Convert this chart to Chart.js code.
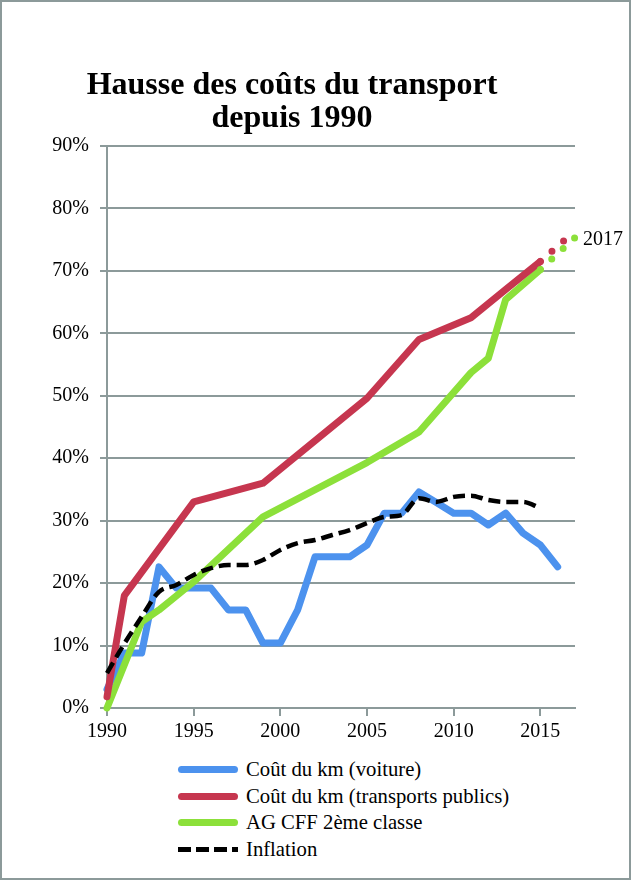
<!DOCTYPE html>
<html>
<head>
<meta charset="utf-8">
<title>Hausse des coûts du transport</title>
<script src="https://cdn.jsdelivr.net/npm/chart.js@4.4.1/dist/chart.umd.min.js"></script>
<style>
    html, body { margin: 0; padding: 0; background: #fff; }
    #frame {
        position: absolute; left: 0; top: 0;
        width: 631px; height: 880px;
        box-sizing: border-box;
        border: 2px solid #8c9a9a;
    }
    #chart-container { position: absolute; left: 0; top: 0; width: 631px; height: 752px; }
    #legend {
        position: absolute; left: 178px; top: 756px;
        font: 20.7px "Liberation Serif", serif; color: #000;
    }
    .legend-item { height: 26.7px; display: flex; align-items: center; white-space: nowrap; }
    .legend-line { width: 60px; height: 7px; border-radius: 4px; margin-right: 8px; }
    .legend-line.dashed {
        height: 5px; border-radius: 0;
        background: repeating-linear-gradient(90deg, #000 0 13px, transparent 13px 18px);
    }
</style>
</head>
<body>
<div id="frame"></div>
<div id="chart-container">
    <canvas id="transport-chart" width="631" height="752"></canvas>
</div>
<div id="legend"></div>

<script>
// valeurs (en %)
const YEARS = [1990, 1991, 1992, 1993, 1994, 1995, 1996, 1997, 1998, 1999,
               2000, 2001, 2002, 2003, 2004, 2005, 2006, 2007, 2008, 2009,
               2010, 2011, 2012, 2013, 2014, 2015, 2016];
const VOITURE = [3, 8.8, 8.8, 22.6, 19.2, 19.2, 19.2, 15.7, 15.7, 10.4,
                 10.4, 15.7, 24.2, 24.2, 24.2, 26.1, 31.2, 31.2, 34.6, 32.9,
                 31.2, 31.2, 29.3, 31.2, 28, 26.1, 22.6];
const INFLATION = [5.6, 10.3, 14.6, 18.6, 19.7, 21.3, 22.4, 22.9, 22.9, 23.7,
                   25.3, 26.4, 26.9, 27.7, 28.5, 29.6, 30.6, 30.9, 33.6, 33,
                   33.8, 34, 33.3, 33, 33, 32];

const TP_YEARS = [1990, 1991, 1995, 1999, 2005, 2008, 2011, 2013, 2015];
const TP_VALUES = [1.8, 18, 33, 36, 49.6, 59, 62.5, 67, 71.5];

const AG_YEARS = [1990, 1992, 1993, 1995, 1999, 2005, 2008, 2011, 2012, 2013, 2015];
const AG_VALUES = [0, 13.8, 15.7, 20.2, 30.6, 39.3, 44.2, 53.7, 56, 65.4, 70.2];

// prolongation pointillée jusqu'en 2017
const FORECAST_YEARS = [2015, 2017];
const TP_FORECAST = [71.5, 76.4];
const AG_FORECAST = [70.2, 75.3];

const X_TICKS = [1990, 1995, 2000, 2005, 2010, 2015];
const Y_TICKS = [0, 10, 20, 30, 40, 50, 60, 70, 80, 90];

const TITLE_LINES = ['Hausse des coûts du transport', 'depuis 1990'];
const SERIES_NAMES = ['Coût du km (voiture)', 'Coût du km (transports publics)',
                      'AG CFF 2ème classe', 'Inflation'];
const END_LABEL = '2017';

const BLUE = '#4c92ee';
const RED = '#c6364f';
const GREEN = '#8ce03a';
const GRID = '#8c9a9a';

function toPoints(xs, ys) {
    return xs.map((x, i) => ({x: x, y: ys[i]}));
}

Chart.defaults.font.family = '"Liberation Serif", serif';
Chart.defaults.font.size = 20;
Chart.defaults.color = '#000';

var datasets = [
    {
        label: SERIES_NAMES[0], data: toPoints(YEARS, VOITURE),
        borderColor: BLUE, borderWidth: 7, order: 4, inLegend: true,
    },
    {
        label: SERIES_NAMES[1], data: toPoints(TP_YEARS, TP_VALUES),
        borderColor: RED, borderWidth: 7, order: 2, inLegend: true,
    },
    {
        label: SERIES_NAMES[2], data: toPoints(AG_YEARS, AG_VALUES),
        borderColor: GREEN, borderWidth: 7, order: 3, inLegend: true,
    },
    {
        label: SERIES_NAMES[3], data: toPoints(YEARS.slice(0, INFLATION.length), INFLATION),
        borderColor: '#000', borderWidth: 4.5, borderDash: [12, 6], borderCapStyle: 'butt',
        cubicInterpolationMode: 'monotone', order: 0, inLegend: true, dashed: true,
    },
    {
        label: SERIES_NAMES[1] + ' 2017', data: toPoints(FORECAST_YEARS, TP_FORECAST),
        borderColor: RED, borderWidth: 7, borderDash: [0, 15.5], order: 1,
    },
    {
        label: SERIES_NAMES[2] + ' 2017', data: toPoints(FORECAST_YEARS, AG_FORECAST),
        borderColor: GREEN, borderWidth: 7, borderDash: [0, 15.5], order: 1,
    },
];

datasets.forEach((ds) => {
    ds.pointRadius = 0;
    ds.fill = false;
    ds.clip = false;
    if (!ds.borderCapStyle) ds.borderCapStyle = 'round';
    ds.borderJoinStyle = 'round';
});

// étiquette "2017" au bout des pointillés
const endLabelPlugin = {
    id: 'endLabel',
    afterDatasetsDraw(chart) {
        var ctx = chart.ctx;
        var x = chart.scales.x;
        var y = chart.scales.y;
        ctx.save();
        ctx.font = '20px "Liberation Serif", serif';
        ctx.fillStyle = '#000';
        ctx.textBaseline = 'middle';
        ctx.textAlign = 'left';
        ctx.fillText(END_LABEL, x.getPixelForValue(FORECAST_YEARS[1]) + 8,
                     y.getPixelForValue(AG_FORECAST[1]) + 2);
        ctx.restore();
    }
};

var ctx = document.getElementById('transport-chart').getContext('2d');
var chart = new Chart(ctx, {
    type: 'line',
    data: {datasets: datasets},
    options: {
        responsive: false,
        animation: false,
        layout: {padding: {left: 9, right: 56, top: 0, bottom: 0}},
        plugins: {
            legend: {display: false},
            tooltip: {enabled: false},
            title: {
                display: true,
                text: TITLE_LINES,
                color: '#000',
                font: {size: 32, weight: 'bold', lineHeight: 1.03},
                padding: {top: 69.7, bottom: 10.3},
            },
        },
        scales: {
            x: {
                type: 'linear',
                min: YEARS[0],
                max: FORECAST_YEARS[1],
                afterBuildTicks: (scale) => { scale.ticks = X_TICKS.map((v) => ({value: v})); },
                afterFit: (scale) => { scale.height = 44; },
                ticks: {padding: 4, autoSkip: false, maxRotation: 0, callback: (v) => String(v)},
                grid: {drawOnChartArea: false, color: GRID, lineWidth: 2, tickLength: 8},
                border: {display: true, color: GRID, width: 2},
            },
            y: {
                min: 0,
                max: 90,
                afterBuildTicks: (scale) => { scale.ticks = Y_TICKS.map((v) => ({value: v})); },
                afterFit: (scale) => { scale.width = 98; },
                ticks: {padding: 11, callback: (v) => v + '%'},
                grid: {color: GRID, lineWidth: 2, tickLength: 7},
                border: {display: true, color: GRID, width: 2},
            },
        },
    },
    plugins: [endLabelPlugin],
});

// légende en colonne sous le graphique
function createLegend(datasets) {
    var legend = document.getElementById('legend');
    legend.innerHTML = '';
    for (var ds of datasets) {
        if (!ds.inLegend) continue;
        var item = document.createElement('div');
        item.className = 'legend-item';
        var line = document.createElement('span');
        line.className = 'legend-line' + (ds.dashed ? ' dashed' : '');
        if (!ds.dashed) line.style.background = ds.borderColor;
        var text = document.createElement('span');
        text.textContent = ds.label;
        item.appendChild(line);
        item.appendChild(text);
        legend.appendChild(item);
    }
}
createLegend(datasets);
</script>
</body>
</html>
